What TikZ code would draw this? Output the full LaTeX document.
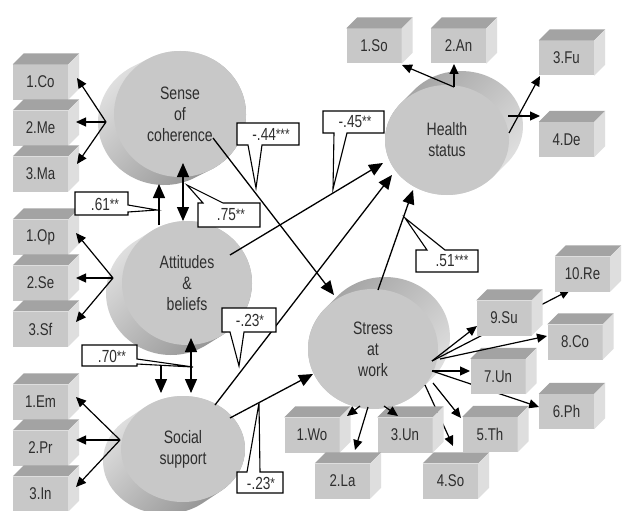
\documentclass[tikz,border=0pt]{standalone}
\usepackage{fontspec}
\setmainfont{Liberation Sans}[FakeStretch=0.78]
\usetikzlibrary{arrows.meta}
\definecolor{facegray}{HTML}{C8C8C8}
\definecolor{topgray}{HTML}{A3A3A3}
\definecolor{sidegray}{HTML}{DEDEDE}
\definecolor{txtgray}{HTML}{2E2E2E}
\definecolor{shLight}{HTML}{E6E6E6}
\definecolor{shDark}{HTML}{8C8C8C}
\definecolor{shMid}{HTML}{A0A0A0}

\newcommand\mycyl[9]{%
  \pgfmathsetmacro\cylT{atan2(-(#5)*(#6),(#4)*(#7))}%
  \pgfmathsetmacro\cylTa{\cylT+180}%
  \pgfmathsetmacro\cylTb{\cylT+360}%
  \path (#2,#3) ++(\cylT:#4 and #5) coordinate (#1-a);
  \path (#2,#3) ++(\cylTa:#4 and #5) coordinate (#1-d);
  \shade[#8] (#1-a) -- ++(#6,#7) arc[start angle=\cylT, end angle=\cylTa, x radius=#4, y radius=#5] -- (#1-d) arc[start angle=\cylTa, end angle=\cylTb, x radius=#4, y radius=#5] -- cycle;
  \fill[facegray] (#2,#3) ellipse[x radius=#4, y radius=#5];
  \node[cyltext] (#1) at (#2,#3) {#9};
}
\newcommand\mycube[4]{%
  \node[cubefront] (#1) at (#2,#3) {#4};
  \fill[topgray] (#1.north west) -- ++(11,-11) -- ([shift={(11,-11)}]#1.north east) -- (#1.north east) -- cycle;
  \fill[sidegray] (#1.north east) -- ++(11,-11) -- ([shift={(11,-11)}]#1.south east) -- (#1.south east) -- cycle;
}
\newcommand\stars[1]{\raisebox{1pt}{\fontsize{15}{15}\selectfont #1}}

\begin{document}
\begin{tikzpicture}[x=1pt,y=-1pt,
  cyltext/.style={align=center, text=txtgray, font=\fontsize{18}{21}\selectfont, inner sep=0pt},
  cubefront/.style={rectangle, fill=facegray, minimum width=55pt, minimum height=35pt, inner sep=0pt, text=txtgray, font=\fontsize{17}{17}\selectfont},
  callout/.style={draw=black, fill=white, line width=1.1pt, line join=miter},
  ctext/.style={font=\fontsize{17.5}{17.5}\selectfont, text=txtgray, inner sep=0pt},
  arr/.style={line width=1.3pt, -{Triangle[length=14pt,width=12pt]}},
  arrs/.style={line width=1.2pt, -{Triangle[length=10pt,width=9pt]}},
  darr/.style={line width=1.3pt, {Triangle[length=14pt,width=12pt]}-{Triangle[length=14pt,width=12pt]}},
  lshade/.style={top color=shLight, bottom color=shDark, shading angle=45},
  rshade/.style={top color=shMid, bottom color=shLight, shading angle=45}]
\useasboundingbox (0,0) rectangle (624,511);
\fill[white] (0,0) rectangle (624,511);

% cylinders
\mycyl{soc}{180}{114}{66}{63}{-16}{8}{lshade}{Sense\\of\\coherence}
\mycyl{att}{187}{283}{65}{62}{-16}{10}{lshade}{Attitudes\\\&\\beliefs}
\mycyl{sup}{183}{449}{62}{53}{-18}{12}{lshade}{Social\\support}
\mycyl{hea}{447}{140}{62}{55}{14}{-14}{rshade}{Health\\status}
\mycyl{str}{373}{349}{65}{60}{12}{-12}{rshade}{Stress\\at\\work}

% coordinates for connectors
\coordinate (sA) at (432,361);
\coordinate (sB) at (440,359);
\coordinate (sC) at (432,371);
\coordinate (sD) at (433,383);
\coordinate (sE) at (425,385);
\coordinate (sF) at (384,406);
\coordinate (sG) at (368,407);
\coordinate (sH) at (360,406);
\coordinate (tRe) at (570,290);
\coordinate (tSu) at (477,326);
\coordinate (tCo8) at (547,336);
\coordinate (tUn7) at (470,371);
\coordinate (tPh) at (539,407);
\coordinate (tTh) at (461,418);
\coordinate (tSo4) at (453,446);
\coordinate (tUn3) at (398,416);
\coordinate (tLa) at (355,450);
\coordinate (tWo) at (347,416);

% lines passing behind boxes
\draw[arrs] (sA) -- (tRe);
\draw[arrs] (sC) -- (tPh);
\draw[arrs] (sE) -- (tSo4);

% cubes
\mycube{bCo}{40.5}{82}{1.Co}
\mycube{bMe}{40.5}{128}{2.Me}
\mycube{bMa}{40.5}{174}{3.Ma}
\mycube{bOp}{40.5}{237}{1.Op}
\mycube{bSe}{40.5}{283}{2.Se}
\mycube{bSf}{40.5}{329}{3.Sf}
\mycube{bEm}{40.5}{402}{1.Em}
\mycube{bPr}{40.5}{448}{2.Pr}
\mycube{bIn}{40.5}{494}{3.In}
\mycube{bSo}{374}{46}{1.So}
\mycube{bAn}{458.5}{46}{2.An}
\mycube{bFu}{566.5}{58}{3.Fu}
\mycube{bDe}{566.5}{139.5}{4.De}
\mycube{bWo}{312}{435}{1.Wo}
\mycube{bUn3}{405}{435}{3.Un}
\mycube{bLa}{342.5}{481}{2.La}
\mycube{bSo4}{450.5}{481}{4.So}
\mycube{bTh}{490}{434.5}{5.Th}
\mycube{bPh}{566.5}{411.5}{6.Ph}
\mycube{bUn7}{498}{376.5}{7.Un}
\mycube{bCo8}{575}{342}{8.Co}
\mycube{bSu}{504}{318}{9.Su}
\mycube{bRe}{582.5}{274}{10.Re}

% indicator arrows, left
\coordinate (jS) at (106,122);
\coordinate (tCo) at (77,78);
\coordinate (tMe) at (76,122);
\coordinate (tMa) at (77,164);
\draw[arrs] (jS) -- (tCo);
\draw[arrs] (jS) -- (tMe);
\draw[arrs] (jS) -- (tMa);
\coordinate (jA) at (113,278);
\coordinate (tOp) at (76,233);
\coordinate (tSe) at (76,278);
\coordinate (tSf) at (76,322);
\draw[arrs] (jA) -- (tOp);
\draw[arrs] (jA) -- (tSe);
\draw[arrs] (jA) -- (tSf);
\coordinate (jP) at (120,440);
\coordinate (tEm) at (76,397);
\coordinate (tPr) at (76,440);
\coordinate (tIn) at (76,487);
\draw[arrs] (jP) -- (tEm);
\draw[arrs] (jP) -- (tPr);
\draw[arrs] (jP) -- (tIn);

% health indicators
\coordinate (jH) at (454,87);
\coordinate (tSo) at (402,65);
\coordinate (tAn) at (454,64);
\coordinate (sFu) at (509,133);
\coordinate (tFu) at (540,76);
\coordinate (sDe) at (508,116);
\coordinate (tDe) at (540,116);
\draw[arrs] (jH) -- (tSo);
\draw[arrs] (jH) -- (tAn);
\draw[arrs] (sFu) -- (tFu);
\draw[arrs] (sDe) -- (tDe);

% stress indicators
\draw[arrs] (sA) -- (tSu);
\draw[arrs] (sB) -- (tCo8);
\draw[arrs] (sC) -- (tUn7);
\draw[arrs] (sD) -- (tTh);
\draw[arrs] (sF) -- (tUn3);
\draw[arrs] (sG) -- (tLa);
\draw[arrs] (sH) -- (tWo);

% structural arrows
\coordinate (p1) at (159,225);
\coordinate (p2) at (159,184);
\draw[arr] (p1) -- (p2);
\coordinate (p3) at (183,163);
\coordinate (p4) at (183,221);
\draw[darr] (p3) -- (p4);
\coordinate (p5) at (191,338);
\coordinate (p6) at (191,393);
\draw[darr] (p5) -- (p6);
\coordinate (p7) at (161,365);
\coordinate (p8) at (161,393);
\draw[arr] (p7) -- (p8);
\coordinate (p9) at (213,138);
\coordinate (p10) at (334,295);
\draw[arr] (p9) -- (p10);
\coordinate (p11) at (230,255);
\coordinate (p12) at (383,163);
\draw[arr] (p11) -- (p12);
\coordinate (p13) at (215,405);
\coordinate (p14) at (392,175);
\draw[arr] (p13) -- (p14);
\coordinate (p15) at (230,418);
\coordinate (p16) at (313,374);
\draw[arr] (p15) -- (p16);
\coordinate (p17) at (378,290);
\coordinate (p18) at (413,190);
\draw[arr] (p17) -- (p18);

% callouts
\draw[callout] (75,192) -- (128,192) -- (128,205) -- (157,210) -- (128,212) -- (128,215) -- (75,215) -- cycle;
\node[ctext] (c61) at (105,204) {.61\stars{**}};
\draw[callout] (198,203) -- (203,203) -- (187,185) -- (223,203) -- (260,203) -- (260,227) -- (198,227) -- cycle;
\node[ctext] (c75) at (231,215) {.75\stars{**}};
\draw[callout] (237,123) -- (299,123) -- (299,145) -- (262,145) -- (256,188) -- (248,145) -- (237,145) -- cycle;
\node[ctext] (c44) at (271,134) {-.44\stars{***}};
\draw[callout] (323,111) -- (384,111) -- (384,133) -- (347,133) -- (333,189) -- (334,133) -- (323,133) -- cycle;
\node[ctext] (c45) at (355,122) {-.45\stars{**}};
\draw[callout] (416,250) -- (427,250) -- (405,218) -- (445,250) -- (478,250) -- (478,272) -- (416,272) -- cycle;
\node[ctext] (c51) at (452,261) {.51\stars{***}};
\draw[callout] (82,345) -- (137,345) -- (137,359) -- (193,367) -- (137,364) -- (137,366) -- (82,366) -- cycle;
\node[ctext] (c70) at (112,356) {.70\stars{**}};
\draw[callout] (222,308) -- (276,308) -- (276,332) -- (244,332) -- (239,366) -- (230,332) -- (222,332) -- cycle;
\node[ctext] (c23a) at (250,320) {-.23\stars{*}};
\draw[callout] (237,472) -- (247,472) -- (259,403) -- (260,472) -- (283,472) -- (283,493) -- (237,493) -- cycle;
\node[ctext] (c23b) at (261,483) {-.23\stars{*}};
\end{tikzpicture}
\end{document}
